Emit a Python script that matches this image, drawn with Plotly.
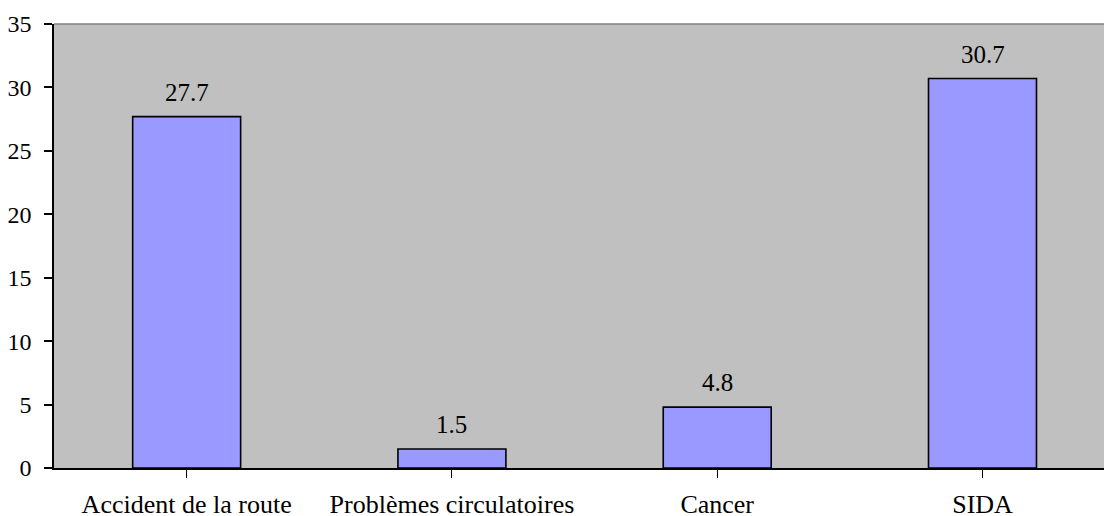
import plotly.graph_objects as go

categories = ["Accident de la route", "Problèmes circulatoires", "Cancer", "SIDA"]
values = [27.7, 1.5, 4.8, 30.7]
y_ticks = [0, 5, 10, 15, 20, 25, 30, 35]

font_family = "'Times New Roman', 'Liberation Serif', Tinos, 'DejaVu Serif', serif"

fig = go.Figure()
fig.add_trace(go.Bar(
    x=list(range(len(categories))),
    y=values,
    width=0.407,
    marker=dict(color="#9999FF", line=dict(color="#000000", width=1.6)),
    hoverinfo="skip",
))

# value labels above each bar
for i, v in enumerate(values):
    fig.add_annotation(
        x=i, y=v, text=f"{v}", showarrow=False,
        yanchor="bottom", yshift=9,
        font=dict(family=font_family, size=25, color="#000000"),
    )

# gray top edge of the plot area
fig.add_shape(type="line", xref="paper", yref="paper", x0=0, x1=1, y0=1, y1=1,
              line=dict(color="#808080", width=1.5))

fig.update_layout(
    width=1104, height=516,
    margin=dict(l=54, r=0, t=24, b=48, autoexpand=False),
    paper_bgcolor="#FFFFFF",
    plot_bgcolor="#C0C0C0",
    showlegend=False,
    font=dict(family=font_family, size=20, color="#000000"),
    xaxis=dict(
        range=[-0.5, 3.458],
        tickmode="array",
        tickvals=list(range(len(categories))),
        ticktext=categories,
        showgrid=False, zeroline=False,
        showline=True, linecolor="#000000", linewidth=1.5,
        ticks="outside", ticklen=8, tickcolor="#000000", tickwidth=1,
        tickson="boundaries",
        ticklabelstandoff=4,
        automargin=False,
        tickfont=dict(family=font_family, size=26, color="#000000"),
    ),
    yaxis=dict(
        range=[0, 35],
        tickmode="array",
        tickvals=y_ticks,
        ticktext=[str(t) for t in y_ticks],
        showgrid=False, zeroline=False,
        showline=True, linecolor="#000000", linewidth=1.5,
        ticks="outside", ticklen=8, tickcolor="#000000", tickwidth=1.5,
        ticklabelstandoff=8,
        automargin=False,
        tickfont=dict(family=font_family, size=24, color="#000000"),
    ),
)

fig.write_html("out.html")
